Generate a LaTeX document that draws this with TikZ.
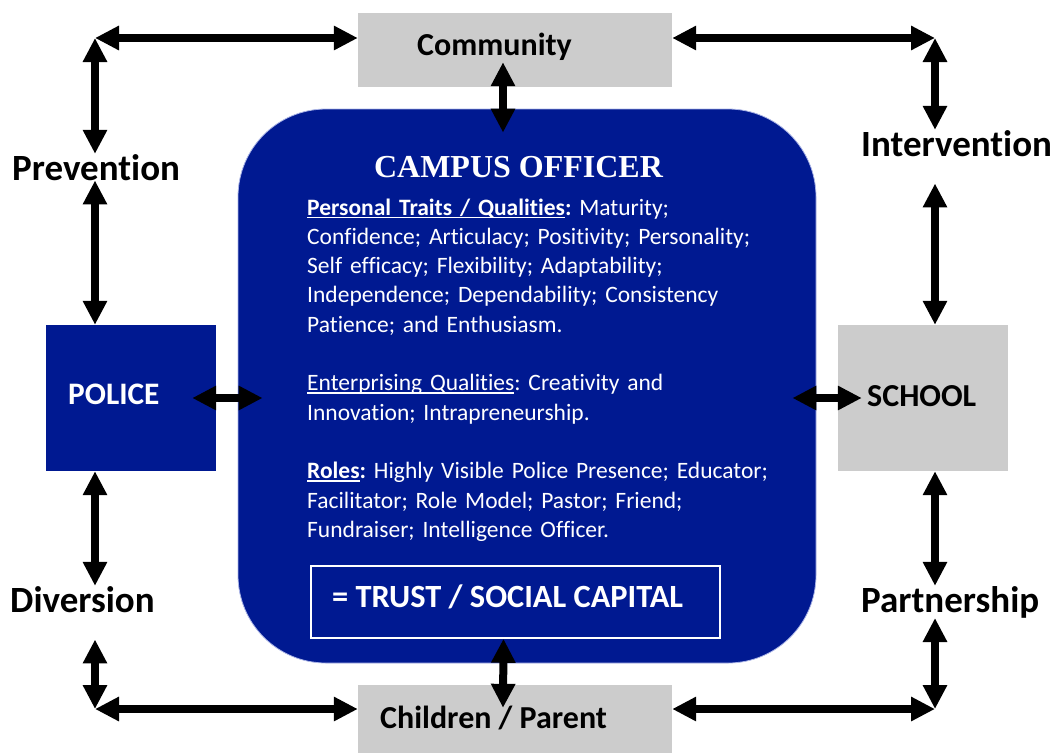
\documentclass[tikz,border=0pt]{standalone}
\usepackage{fontspec}
\setmainfont{Carlito}[Ligatures={NoCommon,NoContextual}, RawFeature=-calt]
\newfontfamily\titlefont{Liberation Serif}
\usetikzlibrary{positioning,arrows.meta,calc}
\definecolor{campusblue}{RGB}{0,25,145}
\definecolor{campusedge}{RGB}{170,180,230}
\definecolor{boxgrey}{RGB}{204,204,204}
\newcommand{\undl}[1]{\leavevmode\setbox0\hbox{#1}\rlap{\rule[-3pt]{\wd0}{1.5pt}}\box0}
\frenchspacing
\tikzset{
  linkarrow/.style={{Triangle[length=24pt,width=23pt]}-{Triangle[length=24pt,width=23pt]}, line width=8pt},
  bluebox/.style={fill=campusblue, inner sep=0pt},
  greybox/.style={fill=boxgrey, inner sep=0pt},
  sidelabel/.style={anchor=base west, inner sep=0pt, font=\bfseries\fontsize{37}{42}\selectfont},
  boxlabel/.style={anchor=base west, inner sep=0pt, font=\bfseries\fontsize{32}{38}\selectfont}
}

\begin{document}
\begin{tikzpicture}[x=1pt, y=-1pt]
  \useasboundingbox (0,0) rectangle (1056,753);
  % boxes
  \node[bluebox, draw=campusedge, line width=0.8pt, rounded corners=88pt, minimum width=578pt, minimum height=554pt] (campus) at (527,386) {};
  \node[greybox, minimum width=314pt, minimum height=74pt] (comm) at (515,50) {};
  \node[greybox, minimum width=314pt, minimum height=68pt] (kids) at (515,719) {};
  \node[bluebox, minimum width=170pt, minimum height=146pt] (police) at (131,398) {};
  \node[greybox, minimum width=170pt, minimum height=146pt] (school) at (923,398) {};
  \node[draw=white, line width=1.5pt, inner sep=0pt, minimum width=409pt, minimum height=72pt] (trust) at (515.5,602) {};
  % corners
  \coordinate (tl) at (95,38);
  \coordinate (tr) at (935,38);
  \coordinate (bl) at (95,709);
  \coordinate (br) at (935,709);
  % labels
  \node[boxlabel] (commtxt) at (417,55) {Community};
  \node[boxlabel] (kidstxt) at (380,728) {Children / Parent};
  \node[boxlabel, text=white, font=\bfseries\fontsize{31.3}{36}\selectfont] (policetxt) at (68,404) {POLICE};
  \node[boxlabel] (schooltxt) at (867,406) {SCHOOL};
  \node[sidelabel] (prev) at (12,180) {Prevention};
  \node[sidelabel] (inter) at (861,156) {Intervention};
  \node[sidelabel] (diver) at (10,612) {Diversion};
  \node[sidelabel] (partner) at (861,612) {Partnership};
  \node[anchor=base, inner sep=0pt, text=white, font=\titlefont\bfseries\fontsize{32}{38}\selectfont] (title) at (518.5,177) {CAMPUS OFFICER};
  \node[anchor=base west, inner sep=0pt, text width=480pt, align=left, text=white, font=\fontsize{23.5}{29.3}\selectfont] (traits) at (307,215) {%
    \undl{\textbf{Personal Traits / Qualities}}\textbf{:} Maturity;\\
    Confidence; Articulacy; Positivity; Personality;\\
    Self efficacy; Flexibility; Adaptability;\\
    Independence; Dependability; Consistency\\
    Patience; and Enthusiasm.\\[29.3pt]
    \undl{Enterprising Qualities}: Creativity and\\
    Innovation; Intrapreneurship.\\[29.3pt]
    \undl{\textbf{Roles}}\textbf{:} Highly Visible Police Presence; Educator;\\
    Facilitator; Role Model; Pastor; Friend;\\
    Fundraiser; Intelligence Officer.};
  \node[boxlabel, text=white, font=\bfseries\fontsize{32.4}{37}\selectfont] (trusttxt) at (332,607) {= TRUST / SOCIAL CAPITAL};
  % outer ring
  \draw[linkarrow] (tl) -- (tl -| comm.west);
  \draw[linkarrow] (tr -| comm.east) -- (tr);
  \draw[linkarrow] (bl) -- (bl -| kids.west);
  \draw[linkarrow] (br -| kids.east) -- (br);
  \draw[linkarrow] (tl) -- (tl |- prev.north);
  \draw[linkarrow] (tl |- prev.south) -- (tl |- police.north);
  \draw[linkarrow] (bl |- police.south) -- (bl |- diver.north);
  \draw[linkarrow, shorten <=27pt] (bl |- diver.south) -- (bl);
  \draw[linkarrow] (tr) -- (tr |- inter.north);
  \draw[linkarrow, shorten <=27pt] (tr |- inter.south) -- (tr |- school.north);
  \draw[linkarrow] (br |- school.south) -- (br |- partner.north);
  \draw[linkarrow] (br |- partner.south) -- (br);
  % spokes to the campus officer
  \draw[linkarrow] ([xshift=-12pt, yshift=25pt]comm.south) -- ([xshift=-24pt, yshift=-24pt]campus.north);
  \draw[linkarrow] ([xshift=-12pt]trust.south) -- ([xshift=-12pt, yshift=-23pt]kids.north);
  \draw[linkarrow] ([xshift=-24pt]police.east) -- ($(campus.west |- police.east)+(25,0)$);
  \draw[linkarrow] ($(campus.east |- school.west)+(-24,0)$) -- ([xshift=24pt]school.west);
\end{tikzpicture}
\end{document}
